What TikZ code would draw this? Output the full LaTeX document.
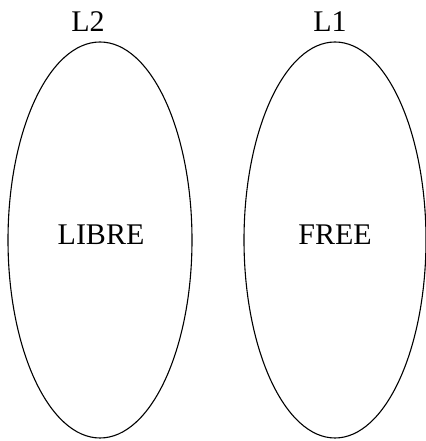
\documentclass[tikz,border=0pt]{standalone}
\usepackage{fontspec}
\setmainfont{Liberation Serif}
\usetikzlibrary{shapes.geometric}
\begin{document}
\begin{tikzpicture}[x=1pt,y=1pt,
  set/.style={draw=black,line width=1.1pt,ellipse,inner sep=0pt,minimum width=184pt,minimum height=396pt},
  lbl/.style={anchor=base,inner sep=0pt,font=\fontsize{30}{36}\selectfont}]
\useasboundingbox (0,0) rectangle (425,441);
\node[set] (e2) at (100,201) {};
\node[set,minimum width=182pt] (e1) at (335,201) {};
\node[lbl] (l2) at (88,409) {L2};
\node[lbl] (l1) at (330,409) {L1};
\node[lbl] (libre) at (101,196) {LIBRE};
\node[lbl] (free) at (335,196) {FREE};
\end{tikzpicture}
\end{document}
